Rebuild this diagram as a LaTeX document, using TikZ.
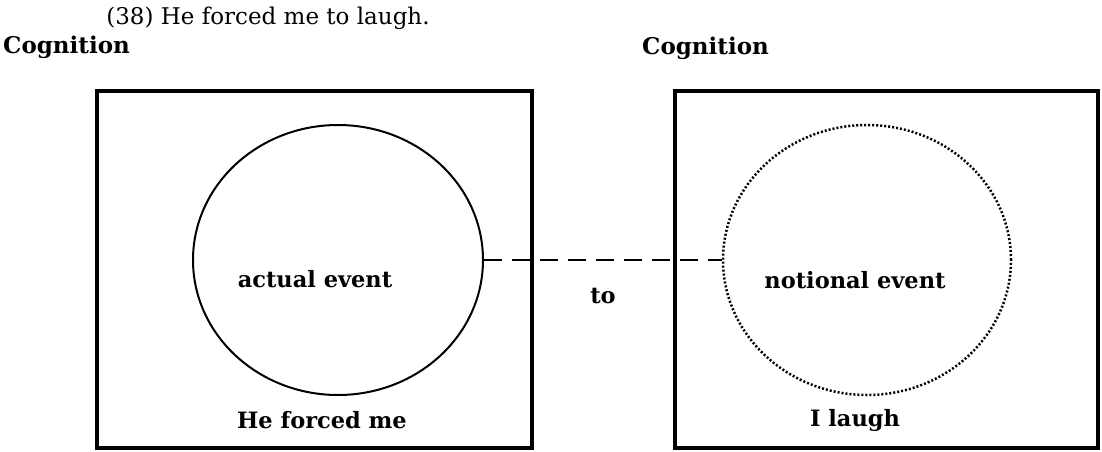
\documentclass[tikz,border=0pt]{standalone}
\usepackage{fontspec}
\setmainfont{DejaVu Serif}
\usetikzlibrary{shapes.geometric}
\begin{document}
\begin{tikzpicture}[x=1pt,y=-1pt,
  frame/.style={draw,line width=4pt},
  solidev/.style={ellipse,draw,line width=2pt,minimum width=290pt,minimum height=270pt,inner sep=0pt},
  dottedev/.style={ellipse,draw,line width=2.5pt,dash pattern=on 2pt off 2pt,minimum width=288pt,minimum height=270pt,inner sep=0pt},
  lbl/.style={font=\fontsize{22.5}{26}\selectfont\bfseries,inner sep=0pt},
  head/.style={font=\fontsize{23}{27}\selectfont\bfseries,inner sep=0pt},
  title/.style={font=\fontsize{23}{27}\selectfont,inner sep=0pt},
  link/.style={line width=2.6pt,dash pattern=on 18pt off 10pt}]
\useasboundingbox (0,0) rectangle (1102,452);
\node[title] (t) at (268,18) {(38) He forced me to laugh.};
\node[head,anchor=west] (c1) at (3,47) {Cognition};
\node[head,anchor=west] (c2) at (642,48) {Cognition};
\draw[frame] (97,91) rectangle (532,448);
\draw[frame] (675,91) rectangle (1098,448);
\node[solidev] (ae) at (338,260) {};
\node[dottedev] (ne) at (867,260) {};
\node[lbl] (l1) at (315,279) {actual event};
\node[lbl] (l2) at (855,280) {notional event};
\node[lbl] (to) at (603,296) {to};
\node[lbl] (b1) at (322,420) {He forced me};
\node[lbl] (b2) at (855,420) {I laugh};
\draw[link] (ae.east) -- (ne.west);
\end{tikzpicture}
\end{document}
